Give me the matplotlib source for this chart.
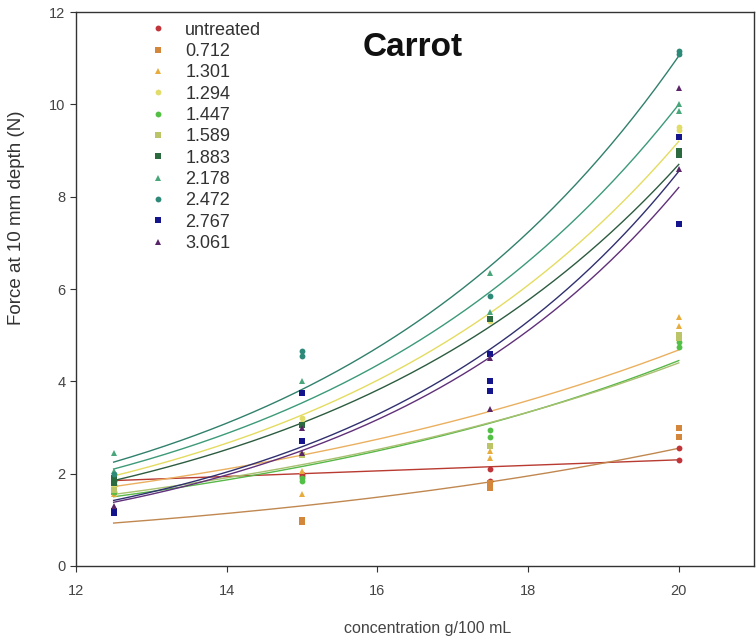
import numpy as np
import matplotlib
matplotlib.use("Agg")
import matplotlib.pyplot as plt

plt.rcParams['font.family'] = ['Liberation Sans', 'DejaVu Sans']

# ---- data ----
labels = ["untreated", "0.712", "1.301", "1.294", "1.447", "1.589",
          "1.883", "2.178", "2.472", "2.767", "3.061"]
colors = ["#c0343a", "#d4863a", "#e8ac3c", "#e2dc6a", "#52c044", "#bcc468",
          "#2a6a3e", "#48a67a", "#2e8a78", "#14148c", "#5a2468"]
markers = ["o", "s", "^", "o", "o", "s", "s", "^", "o", "s", "^"]
line_colors = ["#b83a30", "#c08850", "#eab060", "#e4dc60", "#58b848", "#a8c070",
               "#2c5c40", "#3c9a78", "#30806c", "#303070", "#60307a"]

conc_levels = [12.5, 15.0, 17.5, 20.0]
y_untreated = [[1.85, 1.75], [2.0, 1.95], [2.1, 1.85], [2.55, 2.3]]
y_0712 = [[1.6, 1.65], [1.0, 0.95], [1.7, 1.8], [3.0, 2.8]]
y_1301 = [[1.55], [1.55, 2.05], [2.35, 2.5], [5.4, 5.2]]
y_1294 = [[1.75], [3.2, 3.1], [5.3], [9.5, 9.45]]
y_1447 = [[1.6], [1.9, 1.85], [2.95, 2.8], [4.85, 4.75]]
y_1589 = [[1.65], [2.4], [2.6], [5.0, 4.95]]
y_1883 = [[1.8, 1.9], [3.05], [5.35], [9.0, 8.9]]
y_2178 = [[2.45, 2.05], [4.0], [6.35, 5.5], [10.0, 9.85]]
y_2472 = [[2.0], [4.65, 4.55], [5.85], [11.1, 11.15]]
y_2767 = [[1.2, 1.15], [3.75, 2.7], [4.0, 3.8, 4.6], [9.3, 7.4]]
y_3061 = [[1.3], [3.0, 2.45], [3.4, 4.5], [10.35, 8.6]]
series_y = [y_untreated, y_0712, y_1301, y_1294, y_1447, y_1589,
            y_1883, y_2178, y_2472, y_2767, y_3061]

# fitted curve values at x=12.5 and x=20
fit_x = [12.5, 20.0]
fit_start = [1.85, 0.93, 1.72, 1.95, 1.5, 1.55, 1.85, 2.1, 2.25, 1.42, 1.38]
fit_end = [2.3, 2.55, 4.68, 9.2, 4.45, 4.40, 8.7, 10.0, 11.05, 8.55, 8.2]
fit_linear = [True, False, False, False, False, False, False, False, False, False, False]

fig = plt.figure(figsize=(7.56, 6.37), dpi=100)
ax = fig.add_axes([0.1005, 0.1115, 0.897, 0.8695])

xx = np.linspace(fit_x[0], fit_x[1], 200)
for i in range(len(labels)):
    a, b = fit_start[i], fit_end[i]
    if fit_linear[i]:
        yy = a + (b - a) * (xx - fit_x[0]) / (fit_x[1] - fit_x[0])
    else:
        k = np.log(b / a) / (fit_x[1] - fit_x[0])
        yy = a * np.exp(k * (xx - fit_x[0]))
    ax.plot(xx, yy, color=line_colors[i], lw=1.0, zorder=2)

for i, lab in enumerate(labels):
    xs, ys = [], []
    for xv, vals in zip(conc_levels, series_y[i]):
        xs += [xv] * len(vals)
        ys += vals
    ax.plot(xs, ys, linestyle="none", marker=markers[i], color=colors[i],
            markersize=4.2, markeredgewidth=0, label=lab, zorder=3)

ax.set_xlim(12, 21)
ax.set_ylim(0, 12)
ax.set_xticks([12, 14, 16, 18, 20])
ax.set_yticks([0, 2, 4, 6, 8, 10, 12])
ax.tick_params(direction="out", length=4, width=0.8, labelsize=10.5,
               colors="#333333", labelcolor="#444444")
ax.tick_params(axis="x", pad=9)
for s in ax.spines.values():
    s.set_linewidth(1.0)
    s.set_color("#333333")

fig.text(17 / 756, 1 - 218 / 637, "Force at 10 mm depth (N)", rotation=90,
         ha="center", va="center", fontsize=13.5, color="#333333")
fig.text(428 / 756, 1 - 628 / 637, "concentration g/100 mL", ha="center", va="center",
         fontsize=11.5, color="#444444")

ax.text(413 / 756, 1 - 48 / 637, "Carrot", transform=fig.transFigure,
        ha="center", va="center", fontsize=24, fontweight="bold", color="#111111")

leg = ax.legend(loc="upper left", bbox_to_anchor=(0.1, 0.996), frameon=False,
                fontsize=13, handlelength=0.8, handletextpad=1.1,
                labelspacing=0.24, borderaxespad=0.0, markerscale=1.0)
for t in leg.get_texts():
    t.set_color("#333333")

fig.savefig("out.png", dpi=100)
